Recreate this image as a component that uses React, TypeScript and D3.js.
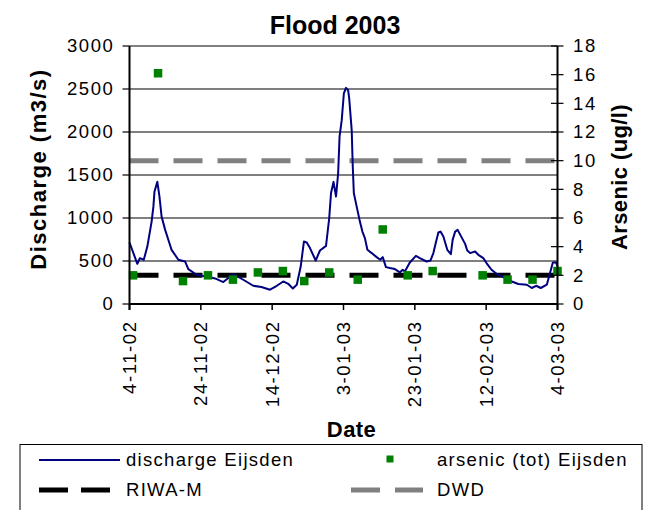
import React from "react";
import * as d3 from "d3";

// ---- data ----
const startDate = "2002-11-04";
const endDate = "2003-03-04";
const tickDates = ["2002-11-04", "2002-11-24", "2002-12-14", "2003-01-03", "2003-01-23", "2003-02-12", "2003-03-04"];
const leftTicks = [0, 500, 1000, 1500, 2000, 2500, 3000];
const rightTicks = [0, 2, 4, 6, 8, 10, 12, 14, 16, 18];

// discharge Eijsden: day offset since 4-11-02 and m3/s
const dischargeDay = [
  0, 2.2, 2.9, 4, 5, 6.2, 6.7, 7, 7.8, 8.4,
  9, 10, 11.2, 11.8, 13.7, 15.6, 16.5, 18.8, 21.6, 24,
  26.3, 29.1, 31.9, 34.7, 37, 39.4, 41.3, 43.1, 44.5, 45.8,
  46.9, 48, 48.9, 49.7, 50.6, 52.2, 53.4, 55.1, 56, 56.5,
  57.2, 57.9, 58.5, 58.9, 59.5, 60.1, 60.7, 61.3, 61.6, 62.3,
  62.6, 62.9, 63.7, 64.6, 65.3, 66, 66.7, 67.9, 69.3, 70.3,
  71, 71.9, 73, 74.4, 75.8, 76.6, 77.2, 78.6, 80.3, 81.4,
  83.3, 84.4, 85.2, 85.9, 86.6, 87.2, 88, 89.1, 90.1, 90.6,
  91.3, 92, 92.9, 94.1, 94.7, 95.5, 96.9, 97.8, 99.2, 100.1,
  101.5, 102.9, 104.8, 107.2, 109, 111.4, 112.8, 114, 115.3, 117,
  117.9, 118.7, 119.6, 120,
];
const dischargeValue = [
  715, 467, 533, 514, 668, 958, 1132, 1306, 1422, 1248,
  1016, 862, 707, 630, 514, 494, 406, 340, 320, 297,
  255, 348, 282, 212, 197, 166, 212, 262, 235, 181,
  224, 436, 726, 715, 650, 506, 622, 676, 1000, 1290,
  1420, 1250, 1520, 1950, 2138, 2448, 2513, 2486, 2390, 2022,
  1596, 1288, 1132, 958, 842, 766, 630, 592, 545, 514,
  545, 429, 418, 406, 367, 398, 378, 483, 560, 533,
  494, 506, 592, 715, 831, 842, 784, 630, 580, 746,
  842, 862, 792, 699, 622, 592, 610, 572, 533, 476,
  398, 351, 313, 262, 232, 224, 186, 212, 186, 224,
  360, 483, 483, 436,
];

// arsenic (tot) Eijsden, ug/l
const arsenicDates = [
  "2002-11-05", "2002-11-12", "2002-11-19", "2002-11-26", "2002-12-03", "2002-12-10",
  "2002-12-17", "2002-12-23", "2002-12-30", "2003-01-07", "2003-01-14", "2003-01-21",
  "2003-01-28", "2003-02-11", "2003-02-18", "2003-02-25", "2003-03-04",
];
const arsenicValue = [2.0, 16.1, 1.6, 2.0, 1.7, 2.2, 2.3, 1.6, 2.2, 1.7, 5.2, 2.0, 2.3, 2.0, 1.7, 1.7, 2.3];

const riwaM = 2; // ug/l
const dwd = 10; // ug/l

const title = "Flood 2003";
const legendItems = ["discharge Eijsden", "arsenic (tot) Eijsden", "RIWA-M", "DWD"];

// ---- layout ----
const W = 651;
const H = 510;
const L = 129.5;
const R = 557.5;
const T = 46;
const B = 304;
const FONT = "'Liberation Sans', Arial, Helvetica, sans-serif";

const parse = (s: string) => new Date(s + "T00:00:00Z");
const DAY = 86400000;

export default function App() {
  const x = d3.scaleUtc().domain([parse(startDate), parse(endDate)]).range([L, R]);
  const yL = d3.scaleLinear().domain([0, 3000]).range([B, T]);
  const yR = d3.scaleLinear().domain([0, 18]).range([B, T]);
  const fmt = d3.utcFormat("%-d-%m-%y");
  const start = parse(startDate).getTime();

  const discharge = dischargeDay.map((d, i) => ({ t: new Date(start + d * DAY), v: dischargeValue[i] }));
  const arsenic = arsenicDates.map((d, i) => ({ t: parse(d), v: arsenicValue[i] }));

  const line = d3
    .line<{ t: Date; v: number }>()
    .x((d) => x(d.t))
    .y((d) => yL(d.v));

  const tickFont = { fontFamily: FONT, fontSize: 18.5, letterSpacing: 1.6 } as const;
  const legendFont = { fontFamily: FONT, fontSize: 18.5, letterSpacing: 1.3 } as const;

  return (
    <svg
      width={W}
      height={H}
      style={{ position: "absolute", left: 0, top: 0, background: "#fff" }}
      xmlns="http://www.w3.org/2000/svg"
    >
      <rect x={0} y={0} width={W} height={H} fill="#fff" />
      {/* title */}
      <text x={335} y={33.5} textAnchor="middle" fontFamily={FONT} fontWeight="bold" fontSize={25}>
        {title}
      </text>

      {/* gridlines */}
      {leftTicks
        .filter((v) => v > 0)
        .map((v) => (
          <line key={"g" + v} x1={L} x2={R} y1={yL(v)} y2={yL(v)} stroke="#000" strokeWidth={1.2} />
        ))}

      {/* reference lines */}
      <line x1={L} x2={R} y1={yR(dwd)} y2={yR(dwd)} stroke="#808080" strokeWidth={5} strokeDasharray="29 15" />
      <line x1={L} x2={R} y1={yR(riwaM)} y2={yR(riwaM)} stroke="#000" strokeWidth={5} strokeDasharray="29 15" />

      {/* discharge */}
      <path d={line(discharge) || ""} fill="none" stroke="#000080" strokeWidth={2} strokeLinejoin="round" />

      {/* arsenic */}
      {arsenic.map((d, i) => (
        <rect key={"a" + i} x={x(d.t) - 4.25} y={yR(d.v) - 4.25} width={8.5} height={8.5} fill="#008000" />
      ))}

      {/* axes */}
      <line x1={L} x2={L} y1={T} y2={B + 6} stroke="#000" strokeWidth={2} />
      <line x1={R} x2={R} y1={T} y2={B + 6} stroke="#000" strokeWidth={2} />
      <line x1={L} x2={R} y1={B} y2={B} stroke="#000" strokeWidth={2} />

      {/* left axis ticks */}
      {leftTicks.map((v) => (
        <g key={"l" + v}>
          <line x1={L - 7} x2={L} y1={yL(v)} y2={yL(v)} stroke="#000" strokeWidth={1.2} />
          <text x={114.5} y={yL(v)} dy="0.35em" textAnchor="end" {...tickFont}>
            {v}
          </text>
        </g>
      ))}

      {/* right axis ticks */}
      {rightTicks.map((v) => (
        <g key={"r" + v}>
          <line x1={R - 6.5} x2={R + 6} y1={yR(v)} y2={yR(v)} stroke="#000" strokeWidth={1.2} />
          <text x={573} y={yR(v)} dy="0.35em" textAnchor="start" {...tickFont}>
            {v}
          </text>
        </g>
      ))}

      {/* x axis ticks */}
      {tickDates.map((s) => {
        const px = x(parse(s));
        return (
          <g key={"x" + s}>
            <line x1={px} x2={px} y1={B} y2={B + 6} stroke="#000" strokeWidth={1.5} />
            <text
              transform={`translate(${px},${322 - 1.6}) rotate(-90)`}
              dy="0.35em"
              textAnchor="end"
              {...tickFont}
            >
              {fmt(parse(s))}
            </text>
          </g>
        );
      })}

      {/* axis titles */}
      <text
        transform="translate(46,169) rotate(-90)"
        textAnchor="middle"
        fontFamily={FONT}
        fontWeight="bold"
        fontSize={22}
        letterSpacing={1.5}
      >
        Discharge (m3/s)
      </text>
      <text
        transform="translate(627,177) rotate(-90)"
        textAnchor="middle"
        fontFamily={FONT}
        fontWeight="bold"
        fontSize={22}
        letterSpacing={0.4}
      >
        Arsenic (ug/l)
      </text>
      <text x={351.5} y={436.5} textAnchor="middle" fontFamily={FONT} fontWeight="bold" fontSize={22} letterSpacing={0.4}>
        Date
      </text>

      {/* legend */}
      <rect x={20} y={444.5} width={622} height={80} fill="none" stroke="#000" strokeWidth={1} />
      <line x1={39} x2={120} y1={460} y2={460} stroke="#000080" strokeWidth={1.8} />
      <text x={126} y={466} {...legendFont}>
        {legendItems[0]}
      </text>
      <rect x={386.5} y={455.5} width={7} height={7} fill="#008000" />
      <text x={437} y={466} {...legendFont}>
        {legendItems[1]}
      </text>
      <line x1={39} x2={110} y1={490} y2={490} stroke="#000" strokeWidth={5} strokeDasharray="29 13" />
      <text x={126} y={496} {...legendFont}>
        {legendItems[2]}
      </text>
      <line x1={351} x2={423} y1={490} y2={490} stroke="#808080" strokeWidth={5} strokeDasharray="29 15" />
      <text x={437} y={496} {...legendFont}>
        {legendItems[3]}
      </text>
    </svg>
  );
}
